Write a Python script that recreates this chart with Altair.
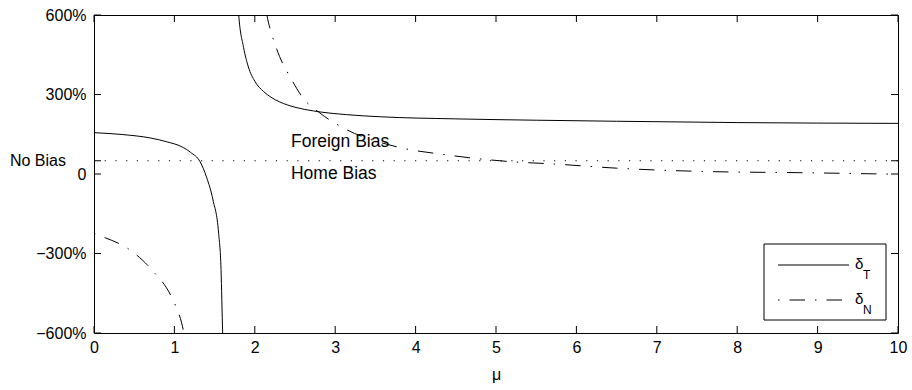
import altair as alt
import pandas as pd

# ---- data ----
T_left_mu = [0, 0.35, 0.70, 0.90, 1.11, 1.20, 1.32, 1.40, 1.48, 1.55, 1.58, 1.60, 1.61]
T_left_val = [156, 149, 136, 122, 100, 82, 46, -12, -98, -223, -360, -596, -680]
T_right_mu = [1.78, 1.80, 1.86, 1.92, 2.00, 2.11, 2.20, 2.31, 2.50, 2.73, 3.14, 3.56, 4.5, 5.5, 6.5, 8.0, 10.0]
T_right_val = [690, 600, 478, 404, 350, 311, 290, 272, 252, 238, 224, 216, 208, 203, 199, 194, 191]
N_left_mu = [0, 0.11, 0.41, 0.72, 0.97, 1.09, 1.14]
N_left_val = [-223, -237, -279, -362, -468, -562, -630]
N_right_mu = [2.12, 2.15, 2.27, 2.46, 2.60, 2.81, 3.10, 3.76, 4.39, 5.21, 5.71, 6.50, 7.66, 8.78, 10.0]
N_right_val = [650, 600, 474, 355, 287, 230, 174, 103, 72, 46, 38, 22, 9, 5, -1]

x_ticks = list(range(11))
y_ticks = [-600, -300, 0, 50, 300, 600]
no_bias = 50
annotations = ["Foreign Bias", "Home Bias"]
annot_mu = [2.45, 2.45]
annot_val = [101, -19]

W, H = 804, 318
FONT = "Liberation Sans"

def frame(mu, val, branch):
    return pd.DataFrame({"mu": mu, "val": val, "branch": branch})

dT = pd.concat([frame(T_left_mu, T_left_val, "a"), frame(T_right_mu, T_right_val, "b")])
dN = pd.concat([frame(N_left_mu, N_left_val, "a"), frame(N_right_mu, N_right_val, "b")])

xscale = alt.Scale(domain=[0, 10], nice=False, zero=False)
yscale = alt.Scale(domain=[-600, 600], nice=False, zero=False)

xaxis = alt.Axis(values=x_ticks, format="d", domain=False, ticks=False, grid=False,
                 labelFont=FONT, labelFontSize=16, labelColor="black", labelPadding=6,
                 labelFlush=False, title="μ", titleFont=FONT, titleFontSize=16,
                 titleFontWeight="normal", titleColor="black", titlePadding=11)
yaxis = alt.Axis(values=y_ticks, domain=False, ticks=False, grid=False,
                 labelExpr="datum.value == 50 ? '' : (datum.value == 0 ? '0' : (datum.value < 0 ? '\u2212' : '') + abs(datum.value) + '%')",
                 labelFont=FONT, labelFontSize=16, labelColor="black", labelPadding=8,
                 labelOverlap=False, labelFlush=False, title=None)

X = alt.X("mu:Q", scale=xscale, axis=xaxis)
Y = alt.Y("val:Q", scale=yscale, axis=yaxis)

lineT = alt.Chart(dT).mark_line(color="black", strokeWidth=1, clip=True,
                               interpolate="monotone").encode(x=X, y=Y, detail="branch:N")
lineN = alt.Chart(dN).mark_line(color="black", strokeWidth=1, clip=True,
                               interpolate="monotone",
                               strokeDash=[1.5, 10, 15.5, 10]).encode(x=X, y=Y, detail="branch:N")

nb_df = pd.DataFrame({"val": [no_bias]})
nb_line = alt.Chart(nb_df).mark_rule(color="black", strokeWidth=1, strokeDash=[1.2, 9.5]).encode(
    y=Y, x=alt.value(0), x2=alt.value(W))
nb_text = alt.Chart(nb_df).mark_text(font=FONT, fontSize=16, align="right", baseline="middle",
                                     color="black").encode(
    y=Y, x=alt.value(-28), text=alt.value("No Bias"))

ann_df = pd.DataFrame({"mu": annot_mu, "val": annot_val, "t": annotations})
ann = alt.Chart(ann_df).mark_text(font=FONT, fontSize=17.5, align="left", baseline="alphabetic",
                                  color="black").encode(x=X, y=Y, text="t:N")

xt_df = pd.DataFrame({"mu": x_ticks})
yt_df = pd.DataFrame({"val": y_ticks})
tick_len = 7
xt_bot = alt.Chart(xt_df).mark_rule(color="black", strokeWidth=1).encode(
    x=X, y=alt.value(H), y2=alt.value(H - tick_len))
xt_top = alt.Chart(xt_df).mark_rule(color="black", strokeWidth=1).encode(
    x=X, y=alt.value(0), y2=alt.value(tick_len))
yt_left = alt.Chart(yt_df).mark_rule(color="black", strokeWidth=1).encode(
    y=Y, x=alt.value(0), x2=alt.value(tick_len))
yt_right = alt.Chart(yt_df).mark_rule(color="black", strokeWidth=1).encode(
    y=Y, x=alt.value(W), x2=alt.value(W - tick_len))

one = alt.Data(values=[{}])
leg_box = alt.Chart(one).mark_rect(fill="white", stroke="black", strokeWidth=1).encode(
    x=alt.value(670), x2=alt.value(792), y=alt.value(229), y2=alt.value(305))
leg_T = alt.Chart(one).mark_rule(color="black", strokeWidth=1).encode(
    x=alt.value(684), x2=alt.value(755), y=alt.value(250))
leg_N = alt.Chart(one).mark_rule(color="black", strokeWidth=1,
                                 strokeDash=[1.5, 10, 15.5, 10]).encode(
    x=alt.value(684), x2=alt.value(755), y=alt.value(285))

def txt(s, x, y, size):
    return alt.Chart(one).mark_text(font=FONT, fontSize=size, align="left", baseline="middle",
                                    color="black").encode(
        x=alt.value(x), y=alt.value(y), text=alt.value(s))

leg_txt = [txt("δ", 761, 249, 15), txt("T", 769, 260, 12),
           txt("δ", 761, 284, 15), txt("N", 769, 295, 12)]

chart = alt.layer(lineT, lineN, nb_line, nb_text, ann, xt_bot, xt_top, yt_left, yt_right,
                  leg_box, leg_T, leg_N, *leg_txt).properties(
    width=W, height=H,
    autosize=alt.AutoSizeParams(type="none"),
    padding={"left": 94, "top": 15, "right": 14, "bottom": 57},
    background="white",
).configure_view(stroke="black", strokeWidth=1)

chart.save("out.html", embed_options={"renderer": "svg", "actions": False})
